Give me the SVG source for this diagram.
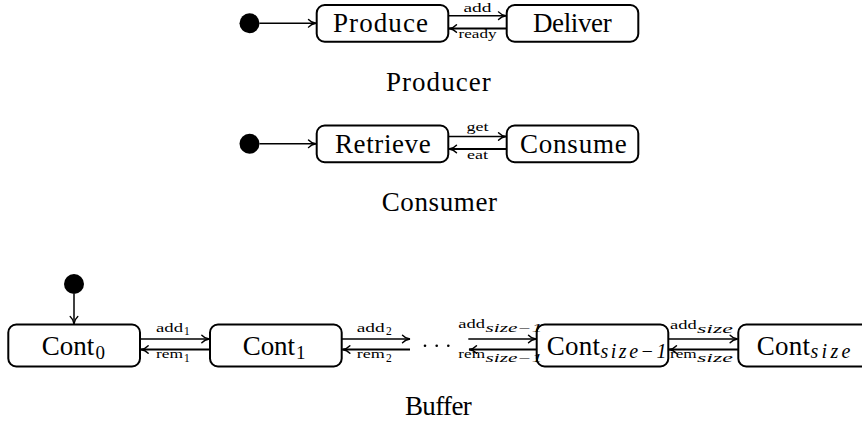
<svg xmlns="http://www.w3.org/2000/svg" width="862" height="421" viewBox="0 0 862 421">
<style>
text{font-family:"Liberation Serif",serif;fill:#000}
.n{font-size:27px}
.s{font-size:19px}
.si{font-size:20px;font-style:italic}
.e{font-size:12.5px}
.es{font-size:11.5px}
.ei{font-size:11.5px;font-style:italic}
.box{fill:#fff;stroke:#000;stroke-width:2}
.dot{fill:#000}
.c{fill:none;stroke:#000;stroke-width:1.5;marker-end:url(#arr)}
.c2{fill:none;stroke:#000;stroke-width:2.2;marker-end:url(#arr)}
</style>
<defs>
<marker id="arr" markerUnits="userSpaceOnUse" markerWidth="12" markerHeight="10" refX="0" refY="0" viewBox="-9 -5 10 10" orient="auto" overflow="visible">
<path d="M-7.5,-3.8 C-5.3,-1.3 -2.3,-0.3 0,0 C-2.3,0.3 -5.3,1.3 -7.5,3.8" fill="none" stroke="#000" stroke-width="1.4" stroke-linecap="round"/>
</marker>
</defs>
<rect width="862" height="421" fill="#fff"/>

<g id="connectors">
<path class="c" d="M259.5,23.3 H316"/>
<path class="c" d="M448.3,15.7 H506"/>
<path class="c2" d="M506.7,28.5 H449"/>
<path class="c" d="M259.5,143.8 H316"/>
<path class="c" d="M448.3,136.5 H506"/>
<path class="c2" d="M506.7,149 H449"/>
<path class="c" d="M74,294 V324"/>
<path class="c" d="M140,339 H209.3"/>
<path class="c2" d="M210,349.5 H140.7"/>
<path class="c" d="M341.7,339 H410"/>
<path class="c2" d="M410,349.5 H342.4"/>
<path class="c" d="M468.3,339 H536"/>
<path class="c2" d="M536.7,349.5 H469"/>
<path class="c" d="M668.3,339 H737.6"/>
<path class="c2" d="M738.3,349.5 H669"/>
<circle class="dot" cx="425" cy="345.7" r="1.3"/>
<circle class="dot" cx="436.7" cy="345.7" r="1.3"/>
<circle class="dot" cx="448.3" cy="345.7" r="1.3"/>
</g>

<g id="producer">
<circle id="p-init" class="dot" cx="249.5" cy="23.3" r="10"/>
<g id="produce"><rect class="box" x="316.7" y="5" width="131.6" height="36.7" rx="8"/><text class="n" x="333" y="32.3" textLength="95">Produce</text></g>
<g id="deliver"><rect class="box" x="506.7" y="5" width="131.6" height="36.7" rx="8"/><text class="n" x="533" y="32.3" textLength="78.7">Deliver</text></g>
<text class="n" x="386" y="90.7" textLength="104.7">Producer</text>
</g>

<g id="consumer">
<circle id="c-init" class="dot" cx="249.5" cy="143.8" r="10"/>
<g id="retrieve"><rect class="box" x="316.7" y="125.5" width="131.6" height="36.7" rx="8"/><text class="n" x="335" y="152.8" textLength="95.7">Retrieve</text></g>
<g id="consume"><rect class="box" x="506.7" y="125.5" width="131.6" height="36.7" rx="8"/><text class="n" x="520" y="152.8" textLength="106.7">Consume</text></g>
<text class="n" x="381.7" y="210.5" textLength="115.3">Consumer</text>
</g>

<g id="buffer">
<circle id="b-init" class="dot" cx="74" cy="284" r="10"/>
<g id="cont0"><rect class="box" x="8.3" y="324.5" width="131.7" height="42" rx="8"/><text class="n" x="41.7" y="355" textLength="52.6">Cont</text><text class="s" x="95.5" y="359">0</text></g>
<g id="cont1"><rect class="box" x="210" y="324.5" width="131.7" height="42" rx="8"/><text class="n" x="242.7" y="355" textLength="52.3">Cont</text><text class="s" x="296" y="359">1</text></g>
<g id="contsm1"><rect class="box" x="536.7" y="324.5" width="131.6" height="42" rx="8"/><text class="n" x="546.7" y="355" textLength="53.3">Cont</text><text class="si" x="600.5" y="357.5" textLength="66">size−1</text></g>
<g id="contsize"><rect class="box" x="738.3" y="324.5" width="131.7" height="42" rx="8"/><text class="n" x="756.7" y="355" textLength="53.3">Cont</text><text class="si" x="810.5" y="357.5" textLength="40">size</text></g>
<text class="n" x="405" y="415" textLength="66.7">Buffer</text>
</g>

<g id="connector-labels">
<text class="e" x="463.5" y="12.3" textLength="28" lengthAdjust="spacingAndGlyphs">add</text>
<text class="e" x="458.5" y="38.3" textLength="38" lengthAdjust="spacingAndGlyphs">ready</text>
<text class="e" x="466.5" y="130.7" textLength="22" lengthAdjust="spacingAndGlyphs">get</text>
<text class="e" x="467" y="159.3" textLength="21" lengthAdjust="spacingAndGlyphs">eat</text>
<text class="e" x="156" y="331.7" textLength="27" lengthAdjust="spacingAndGlyphs">add</text><text class="es" x="184" y="335">1</text>
<text class="e" x="156" y="358.3" textLength="27" lengthAdjust="spacingAndGlyphs">rem</text><text class="es" x="184" y="361.7">1</text>
<text class="e" x="356.7" y="331.7" textLength="28" lengthAdjust="spacingAndGlyphs">add</text><text class="es" x="386" y="335">2</text>
<text class="e" x="356.7" y="358.3" textLength="28" lengthAdjust="spacingAndGlyphs">rem</text><text class="es" x="386" y="361.7">2</text>
<text class="e" x="458.3" y="328.3" textLength="26.7" lengthAdjust="spacingAndGlyphs">add</text><text class="ei" x="485.5" y="331.7" textLength="57" lengthAdjust="spacingAndGlyphs">size−1</text>
<text class="e" x="458.3" y="358.3" textLength="26.7" lengthAdjust="spacingAndGlyphs">rem</text><text class="ei" x="485.5" y="361.7" textLength="57" lengthAdjust="spacingAndGlyphs">size−1</text>
<text class="e" x="670" y="329.3" textLength="26.7" lengthAdjust="spacingAndGlyphs">add</text><text class="ei" x="697" y="333" textLength="36" lengthAdjust="spacingAndGlyphs">size</text>
<text class="e" x="670" y="358.3" textLength="26.7" lengthAdjust="spacingAndGlyphs">rem</text><text class="ei" x="697" y="361.7" textLength="36" lengthAdjust="spacingAndGlyphs">size</text>
</g>
</svg>
